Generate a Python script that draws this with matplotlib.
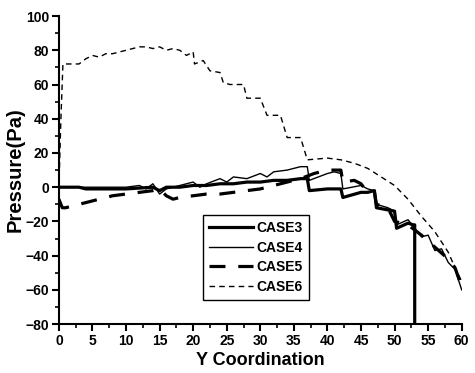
import numpy as np
import matplotlib
matplotlib.use('Agg')
from matplotlib import pyplot as plt
from matplotlib.ticker import MultipleLocator

plt.rcParams['font.family'] = ['Liberation Sans', 'DejaVu Sans']
plt.rcParams['font.weight'] = 'bold'

# CASE3 - thick solid
x3 = [0, 3, 4, 10, 14, 15, 16, 18, 20, 22, 24, 26, 28, 30, 32, 34, 36, 37, 37.3,
      40, 42, 42.3, 45, 46, 47, 47.3, 50, 50.3, 52, 52.8, 53, 53]
y3 = [0, 0, -1, -1, 0, -2, 0, 0, 1, 1, 2, 2, 3, 3, 4, 4, 5, 5, -2,
      -1, -1, -6, -3, -3, -2, -12, -14, -24, -21, -22, -22, -80]

# CASE4 - thin solid
x4 = [0, 5, 10, 12, 13, 14, 15, 16, 18, 20, 21, 22, 24, 25, 26, 28, 30, 31, 32, 34,
      36, 37, 37.3, 40, 41, 42, 42.3, 45, 46, 47, 47.3, 49, 50, 50.3, 52, 53, 54,
      55, 56, 57, 58, 59, 60]
y4 = [0, 0, 0, 1, -1, 2, -4, -1, 1, 3, 0, 2, 5, 3, 6, 5, 8, 6, 9, 10,
      12, 12, 4, 8, 9, 8, -1, 1, -1, -2, -10, -12, -14, -22, -19, -24, -29,
      -28, -37, -36, -44, -48, -60]

# CASE5 - thick dashed
x5 = [0, 0.5, 1, 4, 6, 8, 10, 12, 14, 15, 16, 17, 18, 20, 22, 24, 26, 28, 30, 32,
      34, 36, 38, 40, 42, 42.3, 44, 45, 46, 47, 47.3, 49, 50, 52, 54, 56, 58, 59, 60]
y5 = [-7, -12, -12, -9, -7, -5, -4, -3, -2, -1, -5, -7, -6, -5, -4, -4, -3, -2, -1, 1,
      3, 5, 8, 10, 10, 3, 4, 2, -3, -3, -10, -12, -20, -22, -28, -35, -42, -47, -58]

# CASE6 - thin dashed
x6 = [0, 0.3, 0.6, 3, 4, 5, 6, 7, 8, 9, 10, 11, 12, 13, 14, 15, 16, 17, 18, 19, 20,
      20.2, 21.5, 22.5, 24, 24.5, 25.5, 27.5, 28, 30, 31, 33, 34, 36, 37, 40, 42, 44,
      46, 48, 50, 52, 54, 56, 58, 59, 60]
y6 = [0, 40, 72, 72, 75, 77, 76, 78, 78, 79, 80, 81, 82, 82, 81, 82, 80, 81, 80, 77, 79,
      72, 74, 68, 67, 61, 60, 60, 52, 52, 42, 42, 29, 29, 16, 17, 16, 14,
      11, 6, 1, -7, -17, -26, -38, -47, -55]

fig = plt.figure(figsize=(4.75, 3.73), dpi=100)
ax = fig.add_axes([0.124, 0.131, 0.848, 0.826])

ax.plot(x3, y3, color='black', lw=2.3, label='CASE3')
ax.plot(x4, y4, color='black', lw=1.0, label='CASE4')
ax.plot(x5, y5, color='black', lw=2.3, ls=(0, (5, 4)), label='CASE5')
ax.plot(x6, y6, color='black', lw=1.0, ls=(0, (4, 3)), label='CASE6')

ax.set_xlim(0, 60)
ax.set_ylim(-80, 100)
ax.xaxis.set_major_locator(MultipleLocator(5))
ax.xaxis.set_minor_locator(MultipleLocator(2.5))
ax.yaxis.set_major_locator(MultipleLocator(20))
ax.yaxis.set_minor_locator(MultipleLocator(10))
ax.spines['top'].set_visible(False)
ax.spines['right'].set_visible(False)
for s in ['left', 'bottom']:
    ax.spines[s].set_linewidth(1.5)
ax.tick_params(which='major', direction='out', length=5, width=1.5, labelsize=10, pad=2)
ax.tick_params(which='minor', direction='out', length=3, width=1.2)

ax.set_xlabel('Y Coordination', fontsize=13, fontweight='bold', labelpad=3)
ax.set_ylabel('Pressure(Pa)', fontsize=14.5, fontweight='bold', labelpad=1)

leg = ax.legend(loc='lower left', bbox_to_anchor=(0.357, 0.078), borderaxespad=0,
                fontsize=10, fancybox=False, edgecolor='black', framealpha=1,
                handlelength=3.2, handletextpad=0.25, borderpad=0.45, labelspacing=0.4)
leg.get_frame().set_linewidth(1.0)

fig.savefig('out.png', dpi=100)
